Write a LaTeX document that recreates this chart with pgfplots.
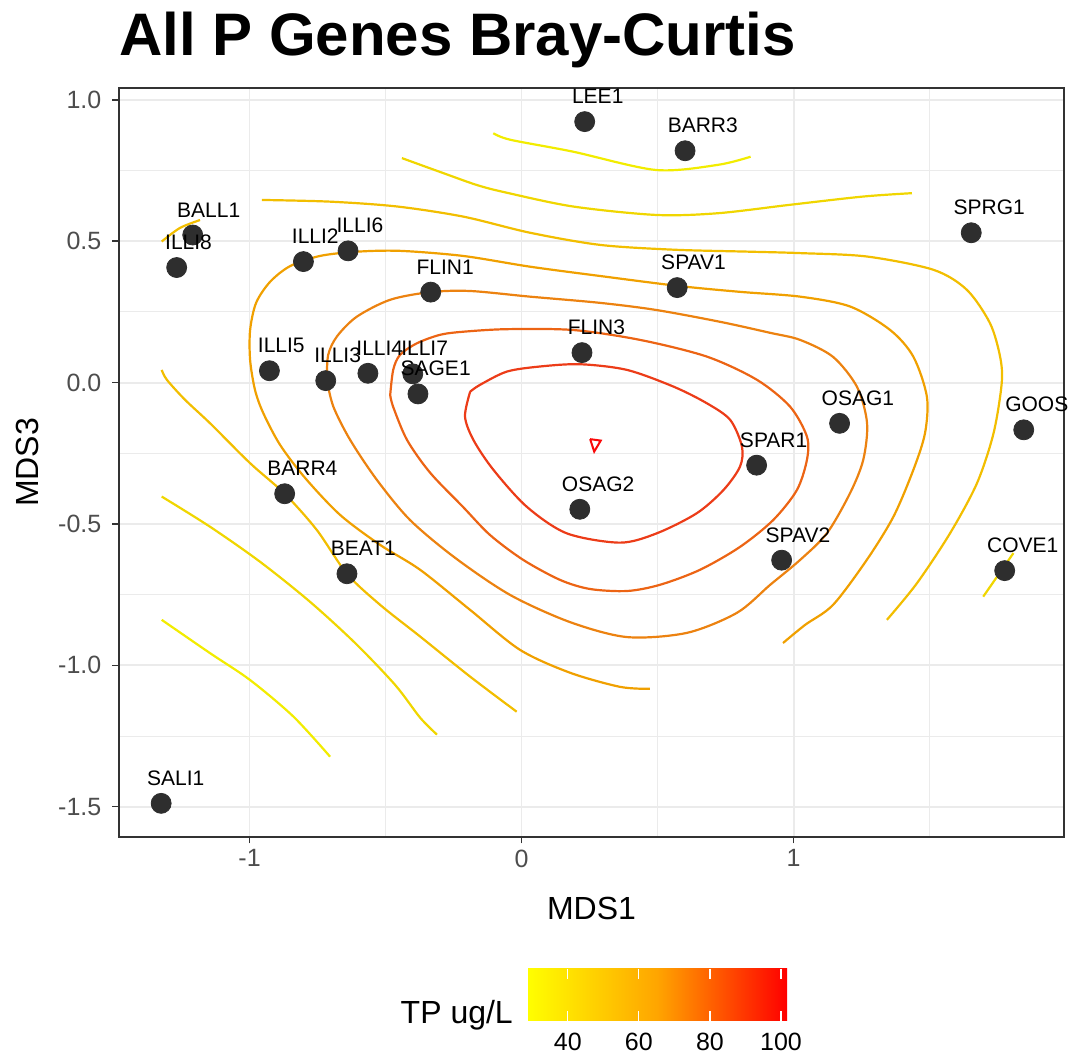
\documentclass[border=0pt]{standalone}
\usepackage{fontspec}
\setmainfont{Liberation Sans}
\usepackage{pgfplots}
\usepackage{pgfplotstable}
\pgfplotsset{compat=1.18}

\definecolor{gridcol}{HTML}{EBEBEB}
\definecolor{framecol}{HTML}{333333}
\definecolor{tickcol}{HTML}{4D4D4D}
\definecolor{ptcol}{HTML}{2E2E2E}
% contour colours, TP levels 30 ... 100 ug/L
\definecolor{lv30}{RGB}{242,236,0}
\definecolor{lv40}{RGB}{240,214,0}
\definecolor{lv50}{RGB}{242,190,0}
\definecolor{lv60}{RGB}{240,160,0}
\definecolor{lv70}{RGB}{236,130,16}
\definecolor{lv80}{RGB}{236,100,20}
\definecolor{lv90}{RGB}{236,60,24}
\definecolor{lv100}{RGB}{250,10,10}

% site scores (MDS1, MDS3)
\pgfplotstableread{
x y label
0.232 0.923 LEE1
0.601 0.820 BARR3
1.653 0.530 SPRG1
-1.209 0.522 BALL1
-1.268 0.407 ILLI8
-0.802 0.428 ILLI2
-0.638 0.466 ILLI6
-0.334 0.320 FLIN1
0.572 0.336 SPAV1
0.222 0.106 FLIN3
-0.927 0.042 ILLI5
-0.720 0.007 ILLI3
-0.565 0.033 ILLI4
-0.400 0.031 ILLI7
-0.381 -0.040 SAGE1
1.169 -0.144 OSAG1
1.846 -0.167 GOOS1
0.864 -0.292 SPAR1
0.214 -0.448 OSAG2
-0.871 -0.393 BARR4
0.956 -0.628 SPAV2
1.776 -0.665 COVE1
-0.642 -0.676 BEAT1
-1.325 -1.488 SALI1
}\sites

% labels sit a quarter of their width left of the point
\newsavebox\lblbox
\newcommand\hjlabel[1]{\sbox\lblbox{#1}\hspace*{-0.25\wd\lblbox}\usebox\lblbox}

\begin{document}
\begin{tikzpicture}
\useasboundingbox (0,0) rectangle (1069pt,1059pt);
\begin{axis}[
  at={(119pt,222pt)}, anchor=south west,
  width=945pt, height=749pt, scale only axis,
  xmin=-1.480, xmax=1.994, ymin=-1.607, ymax=1.042,
  xtick={-1,0,1}, xticklabels={-1,0,1},
  ytick={-1.5,-1,-0.5,0,0.5,1},
  yticklabels={-1.5,-1.0,-0.5,0.0,0.5,1.0},
  minor xtick={-0.5,0.5,1.5},
  minor ytick={-1.25,-0.75,-0.25,0.25,0.75},
  grid=both,
  major grid style={gridcol, line width=1.8pt},
  minor grid style={gridcol, line width=0.9pt},
  tick align=outside, major tick length=6.5pt, minor tick length=0pt,
  tick pos=left,
  tick style={framecol, line width=1.5pt},
  axis line style={framecol, line width=1.6pt},
  ticklabel style={font=\fontsize{25}{30}\selectfont, text=tickcol},
  xticklabel style={anchor=north, inner sep=0pt, yshift=-6pt},
  yticklabel style={anchor=east, inner sep=0pt, xshift=-11pt},
  title={All P Genes Bray-Curtis},
  title style={at={(0,1.036)}, anchor=base west, inner sep=0pt,
    font=\fontsize{60}{72}\selectfont\bfseries},
  xlabel={MDS1},
  xlabel style={at={(0.5,-0.1108)}, anchor=base, inner sep=0pt,
    font=\fontsize{32}{38}\selectfont},
  ylabel={MDS3},
  ylabel style={at={(-0.0857,0.5)}, anchor=base, inner sep=0pt,
    font=\fontsize{32}{38}\selectfont},
  colormap={tp}{rgb255=(255,255,0) rgb255=(255,165,0) rgb255=(255,0,0)},
  colorbar horizontal,
  colorbar/width=52pt,
  point meta min=28.5, point meta max=101.7,
  colorbar style={
    at={(parent axis.south west)}, anchor=north west,
    xshift=408pt, yshift=-123pt,
    width=260pt, height=52pt, scale only axis,
    xtick={40,60,80,100}, xticklabels={40,60,80,100},
    xtick align=inside, xtick pos=both,
    major tick length=10pt,
    tick style={white, line width=1.2pt},
    axis line style={draw=none},
    xticklabel pos=left,
    xticklabel style={font=\fontsize{25}{30}\selectfont, text=black,
      anchor=north, inner sep=0pt, yshift=-12pt},
  },
]

% ---- fitted TP surface, contour lines ----
% 30
\addplot[lv30, line width=2.2pt, smooth] coordinates {
(-0.104,0.882) (-0.042,0.859) (0.188,0.817) (0.494,0.752) (0.721,0.770) (0.842,0.799)};
\addplot[lv30, line width=2.2pt, smooth] coordinates {
(-1.323,-0.839) (-1.145,-0.957) (-0.998,-1.052) (-0.839,-1.181) (-0.704,-1.323)};
% 40
\addplot[lv40, line width=2.2pt, smooth] coordinates {
(-0.440,0.794) (-0.288,0.741) (-0.165,0.699) (-0.061,0.673) (0.188,0.623)
(0.494,0.593) (0.721,0.599) (0.988,0.629) (1.255,0.658) (1.435,0.670)};
\addplot[lv40, line width=2.2pt, smooth] coordinates {
(-1.323,-0.403) (-1.145,-0.510) (-0.961,-0.634) (-0.778,-0.775)
(-0.612,-0.921) (-0.465,-1.069) (-0.373,-1.185) (-0.311,-1.245)};
\addplot[lv40, line width=2.2pt, smooth] coordinates {
(1.697,-0.757) (1.808,-0.603)};
% 50
\addplot[lv50, line width=2.2pt, smooth] coordinates {
(-0.955,0.646) (-0.704,0.640) (-0.459,0.623) (-0.214,0.587) (0.031,0.530)
(0.289,0.487) (0.561,0.470) (0.840,0.463) (1.024,0.458) (1.269,0.446)
(1.514,0.399) (1.637,0.328) (1.722,0.210) (1.759,0.092) (1.765,-0.002)
(1.735,-0.179) (1.674,-0.356) (1.575,-0.533) (1.453,-0.710) (1.343,-0.839)};
\addplot[lv50, line width=2.2pt, smooth] coordinates {
(-1.323,0.045) (-1.304,0.010) (-1.237,-0.061) (-1.145,-0.144) (-0.998,-0.285)
(-0.871,-0.393) (-0.753,-0.521) (-0.642,-0.676) (-0.520,-0.786)
(-0.373,-0.898) (-0.189,-1.040) (-0.018,-1.164)};
\addplot[lv50, line width=2.2pt, smooth] coordinates {
(-1.323,0.499) (-1.256,0.547) (-1.182,0.575)};
% 60
\addplot[lv60, line width=2.2pt, smooth] coordinates {
(0.961,-0.921) (1.042,-0.857) (1.145,-0.786) (1.269,-0.627) (1.367,-0.474)
(1.440,-0.309) (1.483,-0.179) (1.490,-0.050) (1.440,0.092) (1.355,0.186)
(1.208,0.269) (1.024,0.304) (0.803,0.321) (0.575,0.342) (0.289,0.377)
(0.031,0.410) (-0.215,0.448) (-0.447,0.466) (-0.606,0.463) (-0.741,0.448)
(-0.851,0.412) (-0.925,0.356) (-0.976,0.282) (-0.998,0.186) (-0.998,0.080)
(-0.980,-0.026) (-0.950,-0.107) (-0.888,-0.220) (-0.796,-0.337)
(-0.667,-0.468) (-0.520,-0.574) (-0.373,-0.662) (-0.189,-0.804)
(-0.006,-0.945) (0.178,-1.026) (0.362,-1.076) (0.472,-1.083)};
% 70
\addplot[lv70, line width=2.2pt, smooth] coordinates {
(-0.716,0.010) (-0.711,0.098) (-0.679,0.163) (-0.606,0.233) (-0.483,0.293)
(-0.336,0.320) (-0.189,0.324) (0.031,0.304) (0.289,0.282) (0.494,0.257)
(0.730,0.215) (0.914,0.176) (1.024,0.151) (1.145,0.091) (1.233,-0.015)
(1.270,-0.143) (1.256,-0.273) (1.208,-0.390) (1.123,-0.532) (1.024,-0.627)
(0.914,-0.715) (0.792,-0.814) (0.608,-0.885) (0.388,-0.900) (0.178,-0.847)
(-0.042,-0.751) (-0.244,-0.620) (-0.410,-0.486) (-0.532,-0.344)
(-0.630,-0.203) (-0.692,-0.085) (-0.716,0.010)};
% 80
\addplot[lv80, line width=2.2pt, smooth] coordinates {
(-0.483,-0.044) (-0.472,0.045) (-0.447,0.098) (-0.385,0.139) (-0.300,0.169)
(-0.214,0.180) (-0.054,0.189) (0.190,0.186) (0.436,0.151) (0.681,0.092)
(0.865,0.010) (0.987,-0.085) (1.049,-0.191) (1.049,-0.273) (1.012,-0.380)
(0.925,-0.486) (0.803,-0.581) (0.656,-0.662) (0.509,-0.715) (0.388,-0.737)
(0.252,-0.730) (0.142,-0.698) (0.006,-0.627) (-0.116,-0.539) (-0.215,-0.440)
(-0.336,-0.319) (-0.421,-0.203) (-0.472,-0.086) (-0.483,-0.044)};
% 90
\addplot[lv90, line width=2.2pt, smooth] coordinates {
(-0.189,-0.032) (-0.208,-0.120) (-0.177,-0.203) (-0.104,-0.308) (0.019,-0.439)
(0.166,-0.533) (0.362,-0.566) (0.497,-0.533) (0.644,-0.462) (0.742,-0.380)
(0.803,-0.297) (0.810,-0.226) (0.767,-0.132) (0.681,-0.073) (0.558,-0.014)
(0.387,0.045) (0.215,0.065) (0.068,0.057) (-0.054,0.039) (-0.153,-0.008)
(-0.189,-0.032)};
% 100
\addplot[lv100, line width=2pt] coordinates {
(0.252,-0.200) (0.291,-0.205) (0.267,-0.244) (0.252,-0.200)};

% ---- sites ----
\addplot[only marks, mark=*, mark size=10pt,
  mark options={fill=ptcol, draw=ptcol, line width=0.8pt}]
  table[x=x, y=y] {\sites};
\addplot[draw=none, mark=none,
  point meta=explicit symbolic,
  nodes near coords={\hjlabel{\pgfplotspointmeta}},
  every node near coord/.style={anchor=base west, inner sep=0pt,
    yshift=18pt, text=black, font=\fontsize{21}{25}\selectfont}]
  table[x=x, y=y, meta=label] {\sites};
\end{axis}
\node[anchor=base east, inner sep=0pt, font=\fontsize{32}{38}\selectfont]
  at (513pt,35pt) {TP ug/L};
\end{tikzpicture}
\end{document}
